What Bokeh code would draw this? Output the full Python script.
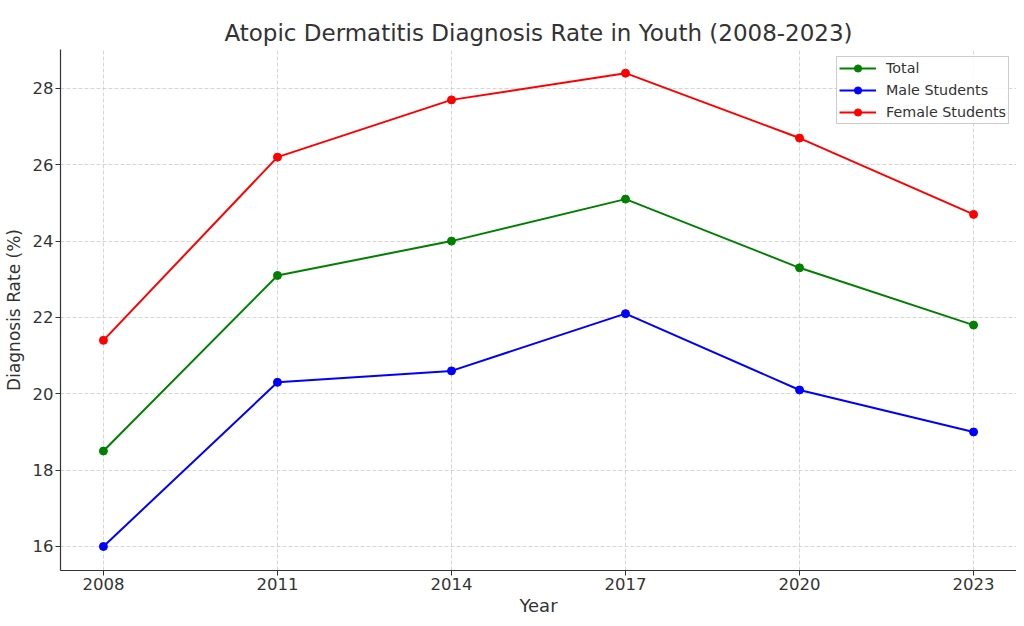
from bokeh.plotting import figure
from bokeh.models import Range1d, FixedTicker, Legend, LegendItem
from bokeh.embed import file_html
from bokeh.resources import INLINE

years = [2008, 2011, 2014, 2017, 2020, 2023]
total = [18.5, 23.1, 24.0, 25.1, 23.3, 21.8]
male = [16.0, 20.3, 20.6, 22.1, 20.1, 19.0]
female = [21.4, 26.2, 27.7, 28.4, 26.7, 24.7]
y_ticks = [16, 18, 20, 22, 24, 26, 28]

FONT = "DejaVu Sans"
TXT = "#333333"

p = figure(frame_width=956, frame_height=521, output_backend="svg", toolbar_location=None,
           x_range=Range1d(2007.26, 2023.74), y_range=Range1d(15.37, 29.02),
           min_border_left=52, min_border_right=0, min_border_top=41, min_border_bottom=44,
           title="Atopic Dermatitis Diagnosis Rate in Youth (2008-2023)")
p.title.align = "center"
p.title.text_font = FONT
p.title.text_font_size = "23px"
p.title.text_font_style = "normal"
p.title.text_color = TXT
p.title.padding = dict(left=0, right=0, top=17, bottom=4)
p.title.standoff = 0

p.outline_line_color = None
for ax in (p.xaxis, p.yaxis):
    ax.axis_line_color = TXT
    ax.axis_line_width = 1.2
    ax.major_tick_line_color = TXT
    ax.major_tick_out = 5
    ax.major_tick_in = 0
    ax.minor_tick_line_color = None
    ax.major_label_text_font = FONT
    ax.major_label_text_font_size = "16.5px"
    ax.major_label_text_color = TXT
    ax.major_label_standoff = 2
    ax.axis_label_text_font = FONT
    ax.axis_label_text_font_style = "normal"
    ax.axis_label_text_color = TXT
p.xaxis.axis_label_standoff = 2
p.yaxis.axis_label_standoff = 6
p.xaxis.axis_label_text_font_size = "18px"
p.yaxis.axis_label_text_font_size = "17px"
p.xaxis.ticker = FixedTicker(ticks=years)
p.yaxis.ticker = FixedTicker(ticks=y_ticks)
p.xaxis.axis_label = "Year"
p.yaxis.axis_label = "Diagnosis Rate (%)"

for g in (p.xgrid, p.ygrid):
    g.grid_line_color = "#cccccc"
    g.grid_line_dash = "4 2"
    g.grid_line_width = 0.8

items = []
for name, vals, col in [("Total", total, "green"), ("Male Students", male, "blue"),
                        ("Female Students", female, "red")]:
    l = p.line(years, vals, line_color=col, line_width=2)
    s = p.scatter(years, vals, fill_color=col, line_color=col, size=8)
    items.append(LegendItem(label=name, renderers=[l, s]))

legend = Legend(items=items, location="top_right")
legend.label_text_font = FONT
legend.label_text_font_size = "14.3px"
legend.label_text_color = TXT
legend.border_line_color = "#cccccc"
legend.border_line_alpha = 1
legend.background_fill_alpha = 0.85
legend.margin = 7
legend.padding = 2
legend.spacing = 4
legend.label_standoff = 10
legend.label_height = 18
legend.glyph_height = 18
legend.glyph_width = 37
p.add_layout(legend)

open("out.html", "w").write(file_html(p, INLINE))
